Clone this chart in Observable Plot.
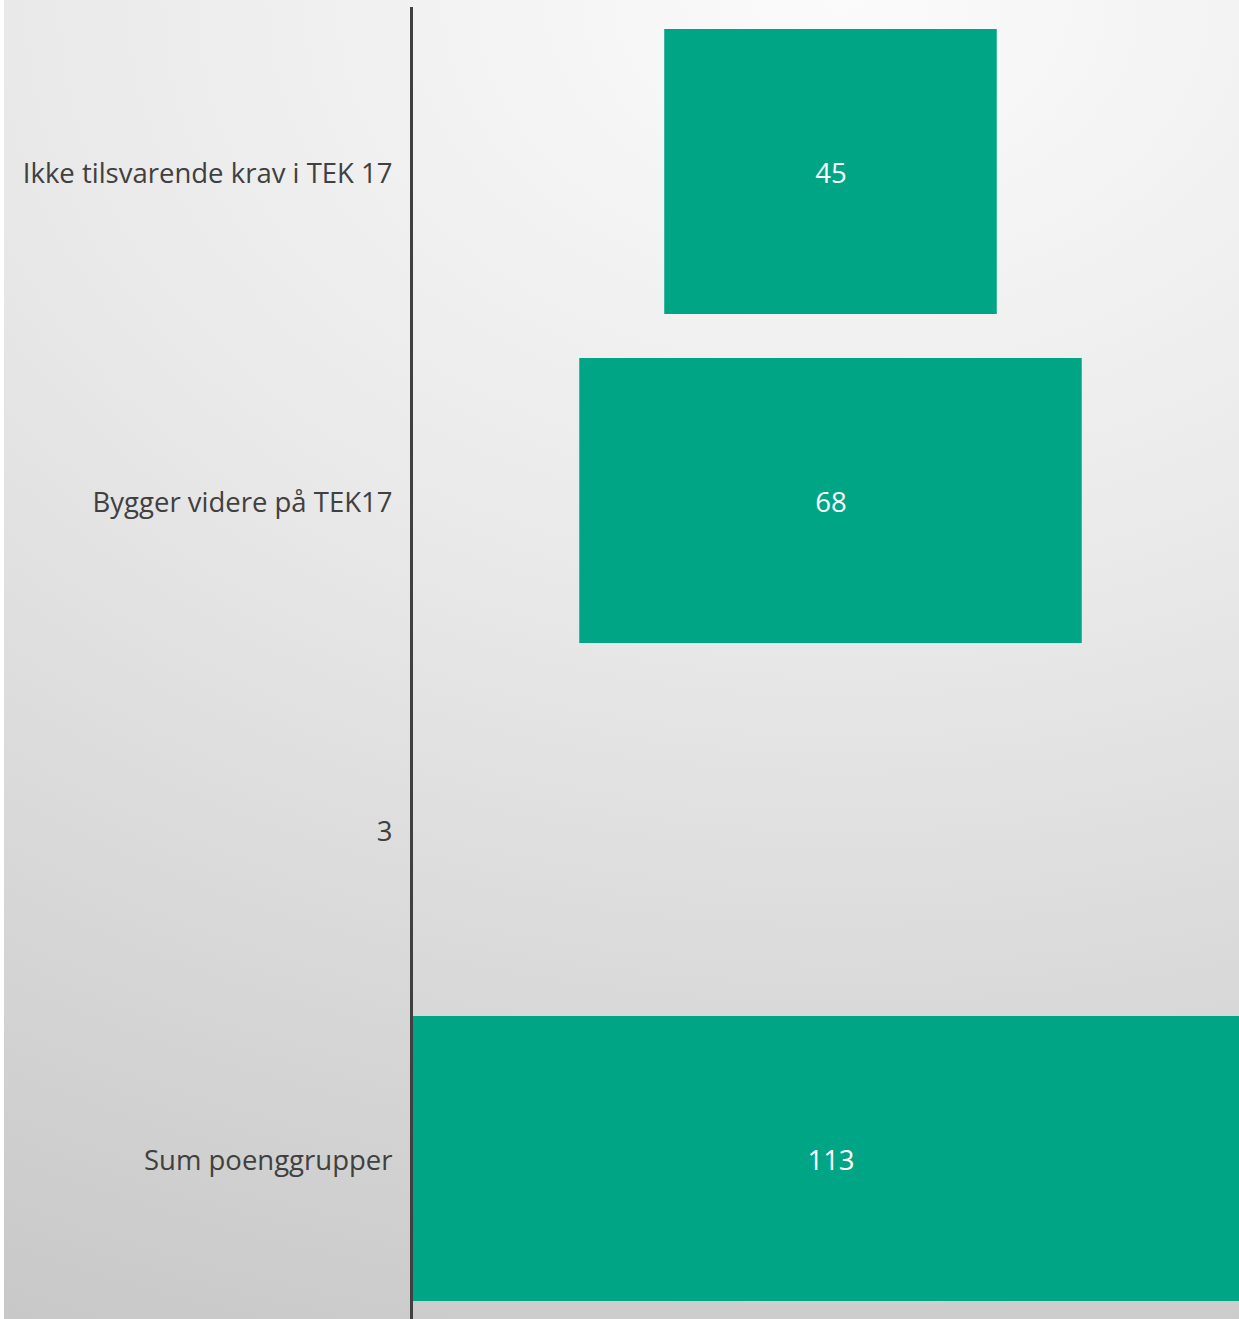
<!DOCTYPE html>
<html>
<head>
<meta charset="utf-8">
<script src="https://cdn.jsdelivr.net/npm/d3@7"></script>
<script src="https://cdn.jsdelivr.net/npm/@observablehq/plot@0.6"></script>
<style>
  html, body { margin: 0; padding: 0; background: #fff; }
  #chart svg {
    display: block;
    background:
      linear-gradient(to right, #ffffff 0px, #ffffff 4px, transparent 4px),
      radial-gradient(ellipse 160% 110% at 68% 0%, #fbfbfb 0%, #e9e9e9 42%, #c8c8c8 100%);
  }
</style>
</head>
<body>
<div id="chart"></div>
<script>
const categories = ["Ikke tilsvarende krav i TEK 17", "Bygger videre på TEK17", "3", "Sum poenggrupper"];
const values = [45, 68, null, 113];

const data = categories.map((c, i) => ({ category: c, value: values[i] }));
const bars = data.filter(d => d.value != null);

const chart = Plot.plot({
  width: 1239,
  height: 1319,
  marginLeft: 411,
  marginRight: 0,
  marginTop: 8,
  marginBottom: 0,
  style: { fontFamily: "'Open Sans', sans-serif", fontSize: "27.5px", color: "#404040", overflow: "hidden" },
  x: { domain: [-56.5, 56.5], range: [413, 1248], axis: null },
  y: { domain: categories, range: [6.5, 1322.5], paddingInner: 0.134, paddingOuter: 0.067, label: null },
  marks: [
    Plot.barX(bars, { y: "category", x1: d => -d.value / 2, x2: d => d.value / 2, fill: "#00a586", clip: true }),
    Plot.text(bars, { y: "category", x: 0, text: d => String(d.value), fill: "#ffffff", fontSize: 27.5, dy: 2 }),
    Plot.axisY({ tickSize: 0, tickPadding: 19, fontSize: 27.5, fill: "#404040", dy: 2 }),
    Plot.frame({ anchor: "left", stroke: "#404040", strokeWidth: 3 })
  ]
});
document.getElementById("chart").append(chart);
</script>
</body>
</html>
